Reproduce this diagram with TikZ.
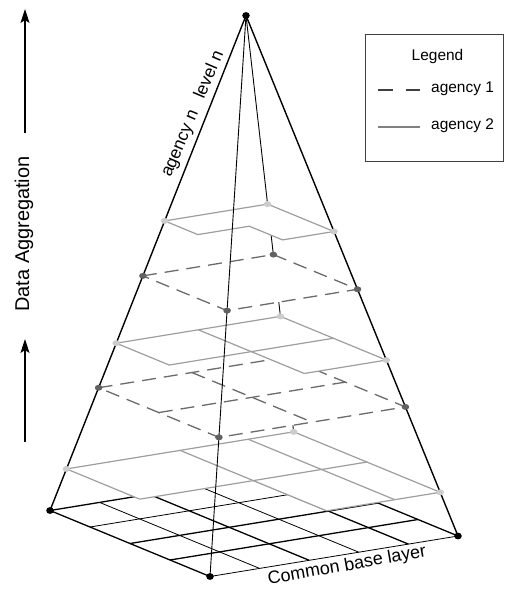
\documentclass[tikz,border=0pt]{standalone}
\usepackage{fontspec}
\setmainfont{Liberation Sans}
\usetikzlibrary{arrows.meta}

% grid point (u=i/4 toward the back corner, v=j/4 toward the front corner)
% of the pyramid section at depth t below the apex
\newcommand\deflevel[2]{%
  \foreach \i in {0,...,4}{\foreach \j in {0,...,4}{%
    \coordinate (#1\i\j) at ({246+#2*(-196+\i*62+\j*40)},{15.5+#2*(495-\i*10.125+\j*16.5)});}}}

\begin{document}
\begin{tikzpicture}[x=1bp,y=-1bp,
  outeredge/.style={line width=1.4bp, black},
  inneredge/.style={line width=0.9bp, black},
  basegrid/.style={line width=1.3bp, black},
  basethin/.style={line width=0.8bp, black},
  agtwo/.style={line width=1.2bp, draw=black!38},
  agone/.style={line width=1.3bp, draw=black!58, dash pattern=on 14bp off 8bp},
  dotlight/.style={fill=black!20},
  dotdark/.style={fill=black!62},
  dotblack/.style={fill=black},
  lbl/.style={inner sep=0pt, font=\fontsize{15.5}{18}\selectfont},
]
\useasboundingbox (0,0) rectangle (510,589);

\coordinate (apex) at (246,15.5);
\deflevel{a}{0.415}
\deflevel{b}{0.526}
\deflevel{c}{0.662}
\deflevel{d}{0.752}
\deflevel{e}{0.916}
% extra line of level 5, at 4/5 of the way to the back
\coordinate (e3a) at ({246+0.916*(-196+0.8*248)},{15.5+0.916*(495-0.8*40.5)});
\coordinate (e3b) at ({246+0.916*(-196+0.8*248+160)},{15.5+0.916*(495-0.8*40.5+66)});

% base layer corners and grid points: 5 cells toward the back, 4 toward the front
\foreach \i in {0,...,5}{\foreach \j in {0,...,4}{%
  \coordinate (g\i\j) at ({50+\i*49.6+\j*40},{510.5-\i*8.1+\j*16.5});}}

% common base layer grid
\foreach \k/\w in {1/0.8,2/1.3,3/0.8,4/1.3}
  \draw[black, line width=\w bp] (g\k0) -- (g\k4);
\foreach \k/\w in {1/0.8,2/1.3,3/1.3}
  \draw[black, line width=\w bp] (g0\k) -- (g5\k);
\draw[basegrid] (g00) -- (g50) -- (g54);
\draw[basegrid] (g00) -- (g04);
\draw[basethin] (g04) -- (g54);

% hidden back edge of the pyramid
\draw[inneredge] (apex) -- (g50);

% level 5 (agency 2)
\fill[white] (e00) -- (e40) -- (e44) -- (e24) -- (e22) -- (e02) -- cycle;
\draw[agtwo] (e02) -- (e00) -- (e40) -- (e44) -- (e24);
\draw[agtwo] (e20) -- (e24);
\draw[agtwo] (e02) -- (e42);
\draw[agtwo] (e3a) -- (e3b);

% level 4 (agency 1)
\fill[white] (d00) -- (d40) -- (d44) -- (d04) -- cycle;
\draw[agone] (d00) -- (d40) -- (d44) -- (d04) -- cycle;
\draw[agone] (d20) -- (d24);
\draw[agone] (d02) -- (d42);

% level 3 (agency 2)
\fill[white] (c00) -- (c40) -- (c44) -- (c24) -- (c22) -- (c02) -- cycle;
\draw[agtwo] (c02) -- (c00) -- (c40) -- (c44) -- (c24);
\draw[agtwo] (c20) -- (c24);
\draw[agtwo] (c02) -- (c42);

% level 2 (agency 1)
\fill[white] (b00) -- (b40) -- (b44) -- (b04) -- cycle;
\draw[agone] (b00) -- (b40) -- (b44) -- (b04) -- cycle;

% level 1 (agency 2)
\fill[white] (a00) -- (a40) -- (a44) -- (a24) -- (a22) -- (a02) -- cycle;
\draw[agtwo] (a00) -- (a40) -- (a44) -- (a24) -- (a22) -- (a02) -- cycle;

% visible edges of the pyramid
\draw[inneredge] (apex) -- (g04);
\draw[outeredge] (apex) -- (g00);
\draw[outeredge] (apex) -- (g54);

% corner markers
\foreach \p in {a00,a40,a44,c00,c40,c44,e00,e40,e44}
  \fill[dotlight] (\p) ellipse [x radius=3.8, y radius=3];
\foreach \p in {b00,b40,b44,b04,d00,d44,d04}
  \fill[dotdark] (\p) ellipse [x radius=3.8, y radius=3];
\foreach \p in {apex,g00,g54,g04}
  \fill[dotblack] (\p) ellipse [x radius=3.8, y radius=3.4];

% labels on the pyramid
\node[inner sep=0pt, rotate=67, font=\fontsize{17.5}{20}\selectfont] (lvl) at (193,114) {agency n\hspace{14bp}level n};
\node[inner sep=0pt, rotate=10, font=\fontsize{18}{21}\selectfont] (base) at (347,566) {Common base layer};

% aggregation axis
\node[inner sep=0pt, rotate=90, font=\fontsize{20}{24}\selectfont] (agg) at (24,234) {Data Aggregation};
\coordinate (up1s) at (25,133);
\coordinate (up1e) at (25,9);
\coordinate (up2s) at (25,442);
\coordinate (up2e) at (25,339);
\draw[line width=1.1bp, -{Stealth[length=14bp, width=9bp, inset=3bp]}] (up1s) -- (up1e);
\draw[line width=1.1bp, -{Stealth[length=14bp, width=9bp, inset=3bp]}] (up2s) -- (up2e);

% legend
\node[draw=black!75, line width=1bp, anchor=north west, minimum width=138bp, minimum height=127bp, inner sep=0pt] (legbox) at (365,34) {};
\node[lbl] (legtitle) at (437.5,57) {Legend};
\node[lbl, anchor=west] (leg1) at (431,89) {agency 1};
\node[lbl, anchor=west] (leg2) at (431,126) {agency 2};
\coordinate (s1a) at (378,90);
\coordinate (s1b) at (420,90);
\coordinate (s2a) at (378,127);
\coordinate (s2b) at (420,127);
\draw[line width=1.2bp, black!75, dash pattern=on 15bp off 13bp] (s1a) -- (s1b);
\draw[line width=1.2bp, black!50] (s2a) -- (s2b);
\end{tikzpicture}
\end{document}
